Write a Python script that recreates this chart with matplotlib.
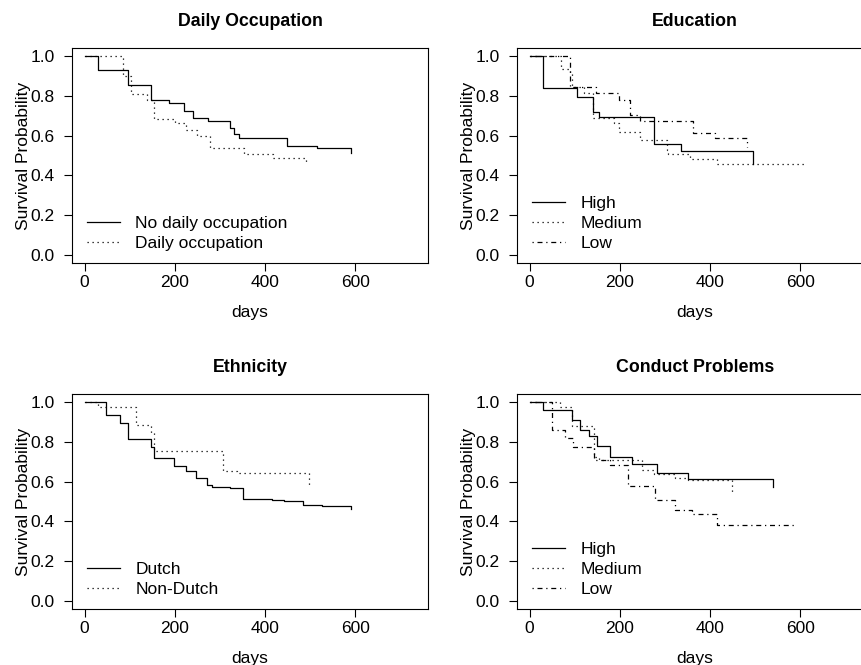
import matplotlib.pyplot as plt

plt.rcParams['font.family'] = ['Liberation Sans', 'DejaVu Sans']

# Daily occupation panel
occ_no_t = [0, 29, 97, 148, 188, 220, 240, 274, 323, 331, 343, 448, 516, 590]
occ_no_s = [1.0, 0.93, 0.855, 0.78, 0.765, 0.725, 0.69, 0.675, 0.64, 0.61, 0.59, 0.55, 0.54, 0.515]
occ_yes_t = [0, 84, 103, 139, 153, 201, 224, 249, 278, 354, 417, 491]
occ_yes_s = [1.0, 0.90, 0.81, 0.78, 0.685, 0.665, 0.63, 0.60, 0.54, 0.51, 0.485, 0.455]

# Education panel
edu_high_t = [0, 29, 105, 140, 154, 275, 335, 496]
edu_high_s = [1.0, 0.838, 0.794, 0.72, 0.695, 0.557, 0.523, 0.455]
edu_med_t = [0, 70, 90, 94, 120, 140, 186, 197, 245, 304, 307, 356, 415, 607]
edu_med_s = [1.0, 0.933, 0.908, 0.846, 0.812, 0.687, 0.665, 0.62, 0.58, 0.53, 0.508, 0.481, 0.457, 0.457]
edu_low_t = [0, 90, 147, 197, 223, 245, 363, 411, 481]
edu_low_s = [1.0, 0.846, 0.814, 0.78, 0.703, 0.675, 0.611, 0.586, 0.542]

# Ethnicity panel
eth_dutch_t = [0, 48, 79, 97, 147, 154, 199, 224, 247, 271, 282, 322, 350, 415, 442, 483, 527, 590]
eth_dutch_s = [1.0, 0.936, 0.894, 0.816, 0.774, 0.72, 0.677, 0.653, 0.618, 0.581, 0.573, 0.568,
               0.513, 0.509, 0.504, 0.484, 0.477, 0.462]
eth_non_t = [0, 29, 114, 147, 154, 307, 337, 498]
eth_non_s = [1.0, 0.975, 0.886, 0.844, 0.755, 0.653, 0.643, 0.573]

# Conduct problems panel
cp_high_t = [0, 29, 94, 112, 131, 149, 179, 227, 282, 352, 540]
cp_high_s = [1.0, 0.962, 0.911, 0.86, 0.83, 0.778, 0.722, 0.69, 0.643, 0.612, 0.572]
cp_med_t = [0, 68, 94, 142, 153, 249, 276, 322, 352, 448]
cp_med_s = [1.0, 0.973, 0.881, 0.725, 0.71, 0.66, 0.64, 0.618, 0.606, 0.543]
cp_low_t = [0, 49, 79, 97, 142, 179, 219, 278, 323, 360, 415, 592]
cp_low_s = [1.0, 0.861, 0.819, 0.772, 0.71, 0.683, 0.576, 0.506, 0.459, 0.439, 0.383, 0.383]

dotted = (0, (1, 3))
dashdot = (0, (1, 3, 4, 3))

panels = [
    ("Daily Occupation", [72, 263],
     [(occ_no_t, occ_no_s, '-', "No daily occupation"),
      (occ_yes_t, occ_yes_s, dotted, "Daily occupation")]),
    ("Education", [517, 263],
     [(edu_high_t, edu_high_s, '-', "High"),
      (edu_med_t, edu_med_s, dotted, "Medium"),
      (edu_low_t, edu_low_s, dashdot, "Low")]),
    ("Ethnicity", [72, 609],
     [(eth_dutch_t, eth_dutch_s, '-', "Dutch"),
      (eth_non_t, eth_non_s, dotted, "Non-Dutch")]),
    ("Conduct Problems", [517, 609],
     [(cp_high_t, cp_high_s, '-', "High"),
      (cp_med_t, cp_med_s, dotted, "Medium"),
      (cp_low_t, cp_low_s, dashdot, "Low")]),
]

W, H = 862, 665
fig = plt.figure(figsize=(W / 100, H / 100), dpi=100)

for title, (left, bottom), curves in panels:
    ax = fig.add_axes([left / W, (H - bottom) / H, 356 / W, 215 / H])
    for t, s, ls, lab in curves:
        ax.step(t, s, where='post', color='black', lw=0.9, linestyle=ls, label=lab)
    ax.set_xlim(-28, 761)
    ax.set_ylim(-0.04, 1.04)
    ax.set_xticks([0, 200, 400, 600])
    ax.set_yticks([0.0, 0.2, 0.4, 0.6, 0.8, 1.0])
    ax.set_yticklabels(['0.0', '0.2', '0.4', '0.6', '0.8', '1.0'])
    ax.tick_params(direction='out', length=5.8, width=0.8, labelsize=12.5, color='black')
    ax.tick_params(axis='y', pad=6.5)
    ax.tick_params(axis='x', pad=2.5)
    for sp in ax.spines.values():
        sp.set_linewidth(0.8)
        sp.set_color('black')
    ax.set_title(title, fontsize=12.8, fontweight='bold', pad=15.8)
    ax.set_xlabel('days', fontsize=12.5, labelpad=11)
    ax.set_ylabel('Survival Probability', fontsize=12.5, labelpad=0)
    ax.legend(loc='lower left', bbox_to_anchor=(0.041, 0.055), borderaxespad=0, borderpad=0,
              frameon=False, fontsize=12.5, handlelength=1.9, handletextpad=0.9,
              labelspacing=0.28)

fig.savefig('out.png', dpi=100)
